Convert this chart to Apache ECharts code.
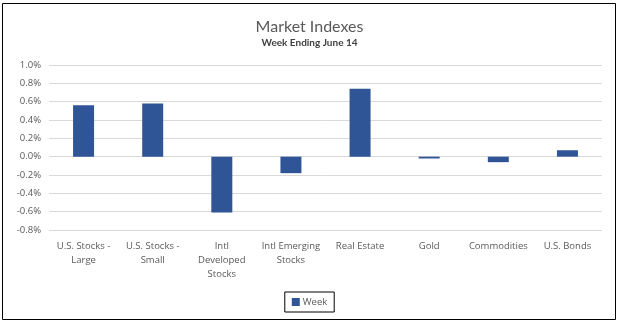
<!DOCTYPE html>
<html>
<head>
<meta charset="utf-8">
<script src="https://cdn.jsdelivr.net/npm/echarts@6/dist/echarts.min.js"></script>
<style>
html,body{margin:0;padding:0;background:#fff;}
#c{width:619px;height:324px;}
</style>
</head>
<body>
<div id="c"></div>
<script>
var categories = ["U.S. Stocks -\nLarge", "U.S. Stocks -\nSmall", "Intl\nDeveloped\nStocks", "Intl Emerging\nStocks", "Real Estate", "Gold", "Commodities", "U.S. Bonds"];
var weekValues = [0.56, 0.58, -0.61, -0.18, 0.74, -0.02, -0.06, 0.07];
var yMin = -0.8, yMax = 1.0, yStep = 0.2;

var labelFont = 'Open Sans';
var chart = echarts.init(document.getElementById('c'));
chart.setOption({
  animation: false,
  textStyle: {fontFamily: labelFont},
  title: {
    text: 'Market Indexes',
    subtext: 'Week Ending June 14',
    left: 'center',
    top: 14,
    itemGap: 3,
    textStyle: {fontFamily: 'Lato', fontSize: 16, fontWeight: 'normal', color: '#595959'},
    subtextStyle: {fontFamily: 'Lato', fontSize: 10, fontWeight: 'bold', color: '#404040'}
  },
  graphic: [{
    type: 'rect',
    shape: {x: 2.5, y: 3.5, width: 613, height: 316},
    style: {fill: 'none', stroke: '#000', lineWidth: 1},
    silent: true
  }],
  legend: {
    data: ['Week'],
    bottom: 12,
    left: 'center',
    itemWidth: 8,
    itemHeight: 8,
    icon: 'rect',
    borderColor: '#000',
    borderWidth: 1,
    borderRadius: 0,
    padding: [5, 7, 5, 7],
    textStyle: {fontFamily: labelFont, fontSize: 9.5, color: '#595959', padding: [0, 0, 0, -2]}
  },
  grid: {left: 49, right: 17, top: 65, bottom: 94},
  xAxis: {
    type: 'category',
    data: categories,
    axisLine: {show: false, onZero: false},
    axisTick: {show: false},
    axisLabel: {interval: 0, fontFamily: labelFont, fontSize: 9.5, color: '#595959', lineHeight: 14, margin: 9}
  },
  yAxis: {
    type: 'value',
    min: yMin,
    max: yMax,
    interval: yStep,
    axisLine: {show: false},
    axisTick: {show: false},
    splitLine: {lineStyle: {color: '#d9d9d9', width: 1}},
    axisLabel: {
      fontFamily: labelFont, fontSize: 9.5, color: '#595959', margin: 8,
      formatter: function (v) { return v.toFixed(1) + '%'; }
    }
  },
  series: [{
    name: 'Week',
    type: 'bar',
    data: weekValues,
    barWidth: 21,
    itemStyle: {color: '#2F5597'}
  }]
});
</script>
</body>
</html>
